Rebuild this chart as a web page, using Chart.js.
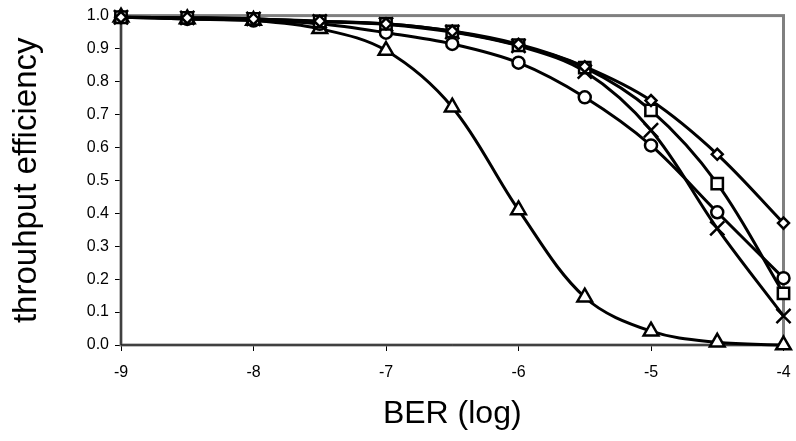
<!DOCTYPE html>
<html>
<head>
<meta charset="utf-8">
<script src="https://cdn.jsdelivr.net/npm/chart.js@4.4.0/dist/chart.umd.min.js"></script>
<style>
  html, body { margin: 0; padding: 0; background: #fff; }
  #wrap { width: 796px; height: 441px; }
</style>
</head>
<body>
<div id="wrap"><canvas id="graphique"></canvas></div>
<script>
// valeurs (BER en log)
const berLog = [-9, -8.5, -8, -7.5, -7, -6.5, -6, -5.5, -5, -4.5, -4];
const serieLosange = [0.995, 0.993, 0.99, 0.983, 0.975, 0.953, 0.913, 0.845, 0.742, 0.579, 0.37];
const serieCarre = [0.995, 0.993, 0.99, 0.982, 0.975, 0.952, 0.91, 0.842, 0.712, 0.49, 0.157];
const serieCroix = [0.995, 0.993, 0.99, 0.982, 0.973, 0.95, 0.908, 0.83, 0.652, 0.354, 0.088];
const serieCercle = [0.995, 0.99, 0.985, 0.975, 0.948, 0.914, 0.857, 0.752, 0.606, 0.403, 0.203];
const serieTriangle = [0.995, 0.99, 0.985, 0.96, 0.894, 0.722, 0.41, 0.145, 0.042, 0.008, 0.0];
const yTicks = [0, 0.1, 0.2, 0.3, 0.4, 0.5, 0.6, 0.7, 0.8, 0.9, 1.0];
const xTicks = [-9, -8, -7, -6, -5, -4];

function points(valeurs) {
    return berLog.map((x, i) => ({ x: x, y: valeurs[i] }));
}

function serie(label, valeurs, style, rayon) {
    return {
        label: label,
        data: points(valeurs),
        borderColor: "#000",
        borderWidth: 3,
        backgroundColor: "#fff",
        pointStyle: style,
        pointRadius: rayon,
        pointBorderWidth: 2.5,
        pointBorderColor: "#000",
        pointBackgroundColor: "#fff",
        tension: 0.35,
        clip: false
    };
}

// cadre gris de la zone de tracé
const cadre = {
    id: "cadre",
    beforeDatasetsDraw(chart) {
        const a = chart.chartArea;
        const ctx = chart.ctx;
        ctx.save();
        ctx.strokeStyle = "#808080";
        ctx.lineWidth = 3;
        ctx.strokeRect(a.left, a.top, a.right - a.left, a.bottom - a.top);
        ctx.strokeStyle = "#000";
        ctx.lineWidth = 1;
        ctx.beginPath();
        ctx.moveTo(a.left, a.top);
        ctx.lineTo(a.left, a.bottom);
        ctx.lineTo(a.right, a.bottom);
        ctx.stroke();
        ctx.restore();
    }
};

const config = {
    type: "line",
    data: {
        datasets: [
            serie("A", serieLosange, "rectRot", 5.5),
            serie("B", serieCarre, "rect", 8),
            serie("C", serieCroix, "crossRot", 10),
            serie("D", serieCercle, "circle", 6),
            serie("E", serieTriangle, "triangle", 8.5)
        ]
    },
    plugins: [cadre],
    options: {
        responsive: true,
        maintainAspectRatio: false,
        animation: false,
        layout: { padding: { top: 15, right: 10, left: 0, bottom: 0 } },
        plugins: { legend: { display: false }, tooltip: { enabled: false } },
        scales: {
            x: {
                type: "linear",
                min: -9,
                max: -4,
                afterBuildTicks(scale) { scale.ticks = xTicks.map(v => ({ value: v })); },
                afterFit(scale) {
                    scale.height = 96;
                    scale.paddingLeft = 0;
                    scale.paddingRight = 0;
                },
                grid: { drawOnChartArea: false, color: "#000", tickLength: 6 },
                border: { display: false },
                ticks: {
                    color: "#000",
                    font: { family: "Liberation Sans", size: 16 },
                    padding: 12,
                    maxRotation: 0,
                    callback: v => String(v)
                },
                title: {
                    display: true,
                    text: "BER (log)",
                    color: "#000",
                    font: { family: "Liberation Sans", size: 32 },
                    padding: { top: 0, bottom: 8 }
                }
            },
            y: {
                min: 0,
                max: 1,
                afterBuildTicks(scale) { scale.ticks = yTicks.map(v => ({ value: v })); },
                afterFit(scale) { scale.width = 121; },
                grid: { drawOnChartArea: false, color: "#000", tickLength: 6 },
                border: { display: false },
                ticks: {
                    color: "#000",
                    font: { family: "Liberation Sans", size: 16 },
                    padding: 6,
                    callback: v => Number(v).toFixed(1)
                },
                title: {
                    display: true,
                    text: "throuhput efficiency",
                    color: "#000",
                    font: { family: "Liberation Sans", size: 33 },
                    padding: { top: 7, bottom: 0 }
                }
            }
        }
    }
};

new Chart(document.getElementById("graphique"), config);
</script>
</body>
</html>
